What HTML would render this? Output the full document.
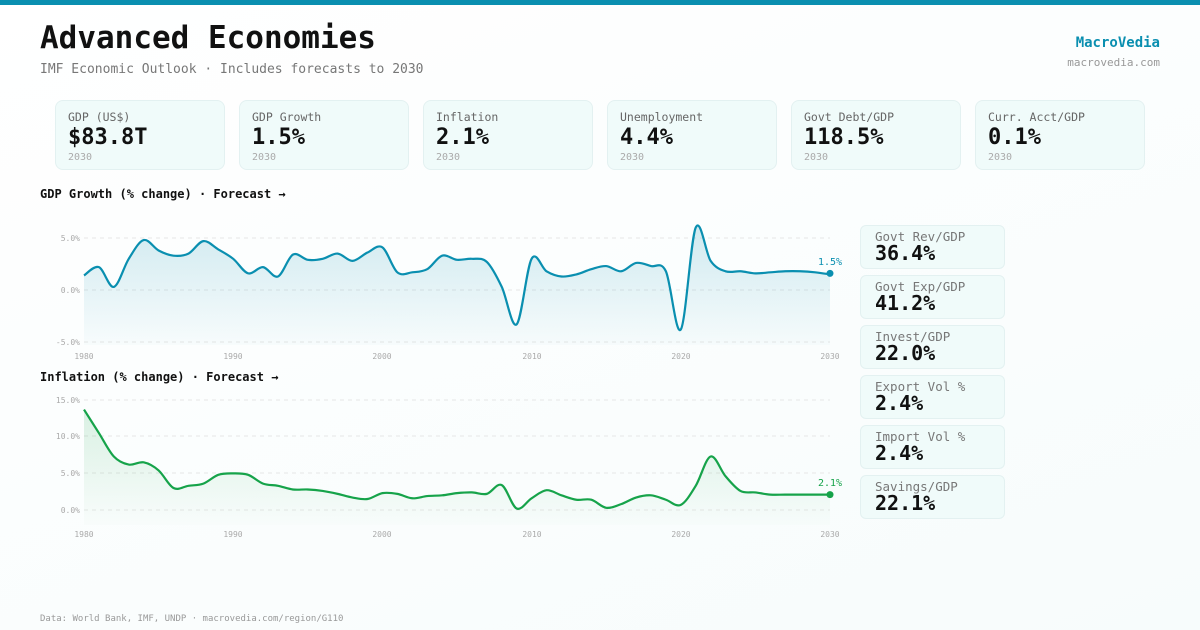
<!DOCTYPE html>
<html><head><meta charset="utf-8"><style>
*{margin:0;padding:0;box-sizing:border-box}
body{width:1200px;height:630px;overflow:hidden;background:linear-gradient(160deg,#ffffff 0%,#f7fcfc 100%);font-family:"DejaVu Sans Mono","Liberation Mono",monospace;color:#111;position:relative}
.top{position:absolute;left:0;top:0;width:1200px;height:5px;background:#0a8fb0}
h1{position:absolute;left:40px;top:20px;font-size:31px;font-weight:bold;letter-spacing:0px}
.sub{position:absolute;left:40px;top:62px;font-size:13px;color:#777}
.brand{position:absolute;right:40px;top:35px;font-size:14px;font-weight:bold;color:#0a8fb0}
.site{position:absolute;right:40px;top:56px;font-size:11px;color:#999}
.kpi{position:absolute;top:100px;width:170px;height:70px;border:1px solid #e3f1f1;border-radius:8px;background:#f0fbfa;padding:9px 12px}
.kpi .l{font-size:11.5px;color:#666}
.kpi .v{font-size:22px;font-weight:bold;margin-top:1px;line-height:26px}
.kpi .y{font-size:10px;color:#aaa;margin-top:1px}
.ct{position:absolute;left:40px;font-size:12px;font-weight:bold}
.side{position:absolute;left:860px;width:145px;height:44px;border:1px solid #e3f1f1;border-radius:6px;background:#f0fbfa;padding:4px 14px}
.side .l{font-size:12.5px;color:#777;line-height:13px}
.side .v{font-size:20px;font-weight:bold;line-height:20px}
.foot{position:absolute;left:40px;top:614px;font-size:9px;color:#999}
svg{position:absolute;left:0;top:0}
</style></head><body>
<div class="top"></div>
<h1>Advanced Economies</h1>
<div class="sub">IMF Economic Outlook · Includes forecasts to 2030</div>
<div class="brand">MacroVedia</div>
<div class="site">macrovedia.com</div>
<div class="kpi" style="left:55px"><div class="l">GDP (US$)</div><div class="v">$83.8T</div><div class="y">2030</div></div>
<div class="kpi" style="left:239px"><div class="l">GDP Growth</div><div class="v">1.5%</div><div class="y">2030</div></div>
<div class="kpi" style="left:423px"><div class="l">Inflation</div><div class="v">2.1%</div><div class="y">2030</div></div>
<div class="kpi" style="left:607px"><div class="l">Unemployment</div><div class="v">4.4%</div><div class="y">2030</div></div>
<div class="kpi" style="left:791px"><div class="l">Govt Debt/GDP</div><div class="v">118.5%</div><div class="y">2030</div></div>
<div class="kpi" style="left:975px"><div class="l">Curr. Acct/GDP</div><div class="v">0.1%</div><div class="y">2030</div></div>
<div class="ct" style="top:187px">GDP Growth (% change) · Forecast →</div>
<div class="ct" style="top:370px">Inflation (% change) · Forecast →</div>
<div class="side" style="top:225px"><div class="l">Govt Rev/GDP</div><div class="v">36.4%</div></div>
<div class="side" style="top:275px"><div class="l">Govt Exp/GDP</div><div class="v">41.2%</div></div>
<div class="side" style="top:325px"><div class="l">Invest/GDP</div><div class="v">22.0%</div></div>
<div class="side" style="top:375px"><div class="l">Export Vol %</div><div class="v">2.4%</div></div>
<div class="side" style="top:425px"><div class="l">Import Vol %</div><div class="v">2.4%</div></div>
<div class="side" style="top:475px"><div class="l">Savings/GDP</div><div class="v">22.1%</div></div>
<div class="foot">Data: World Bank, IMF, UNDP · macrovedia.com/region/G110</div>
<svg width="1200" height="630" id="s" font-family="DejaVu Sans Mono, monospace">
<defs>
<linearGradient id="g1" x1="0" y1="0" x2="0" y2="1"><stop offset="0" stop-color="#0a8fb0" stop-opacity="0.18"/><stop offset="1" stop-color="#0a8fb0" stop-opacity="0.02"/></linearGradient>
<linearGradient id="g2" x1="0" y1="0" x2="0" y2="1"><stop offset="0" stop-color="#16a34a" stop-opacity="0.15"/><stop offset="1" stop-color="#16a34a" stop-opacity="0.01"/></linearGradient>
</defs>
<g stroke="#e6e6e6" stroke-dasharray="4,4">
<line x1="84" x2="830" y1="238" y2="238"/><line x1="84" x2="830" y1="290" y2="290"/><line x1="84" x2="830" y1="342" y2="342"/>
<line x1="84" x2="830" y1="400" y2="400"/><line x1="84" x2="830" y1="436" y2="436"/><line x1="84" x2="830" y1="473" y2="473"/><line x1="84" x2="830" y1="510" y2="510"/>
</g>
<g font-size="8" fill="#aaa" text-anchor="end">
<text x="80" y="241">5.0%</text><text x="80" y="293">0.0%</text><text x="80" y="345">-5.0%</text>
<text x="80" y="403">15.0%</text><text x="80" y="439">10.0%</text><text x="80" y="476">5.0%</text><text x="80" y="513">0.0%</text>
</g>
<g font-size="8" fill="#aaa" text-anchor="middle">
<text x="84" y="359">1980</text><text x="233" y="359">1990</text><text x="382" y="359">2000</text><text x="532" y="359">2010</text><text x="681" y="359">2020</text><text x="830" y="359">2030</text>
<text x="84" y="537">1980</text><text x="233" y="537">1990</text><text x="382" y="537">2000</text><text x="532" y="537">2010</text><text x="681" y="537">2020</text><text x="830" y="537">2030</text>
</g>
<path id="a1" fill="url(#g1)"/><path id="l1" fill="none" stroke="#0a8fb0" stroke-width="2.2"/>
<path id="a2" fill="url(#g2)"/><path id="l2" fill="none" stroke="#16a34a" stroke-width="2.2"/>
<circle cx="830" cy="273.4" r="3.5" fill="#0a8fb0"/><text x="830" y="265" font-size="10" fill="#0a8fb0" text-anchor="middle">1.5%</text>
<circle cx="830" cy="494.6" r="3.5" fill="#16a34a"/><text x="830" y="486" font-size="10" fill="#16a34a" text-anchor="middle">2.1%</text>
</svg>
<script>
var g=[1.4,2.2,0.3,3.0,4.8,3.8,3.3,3.5,4.7,3.9,3.0,1.6,2.2,1.3,3.4,2.9,3.0,3.5,2.8,3.6,4.1,1.7,1.7,2.0,3.3,2.9,3.0,2.7,0.3,-3.3,3.0,1.8,1.3,1.5,2.0,2.3,1.8,2.6,2.3,1.8,-3.8,6.0,2.8,1.8,1.8,1.6,1.7,1.8,1.8,1.7,1.5];
var f=[13.7,10.5,7.3,6.2,6.5,5.4,3.0,3.3,3.6,4.8,5.0,4.8,3.6,3.3,2.8,2.8,2.6,2.2,1.7,1.5,2.3,2.2,1.6,1.9,2.0,2.3,2.4,2.2,3.4,0.2,1.6,2.7,2.0,1.4,1.4,0.3,0.8,1.7,2.0,1.4,0.7,3.3,7.3,4.6,2.6,2.4,2.1,2.1,2.1,2.1,2.1];
function mk(d,y0,s){var p=d.map(function(v,i){return [84+i*746/50,y0-v*s]});var o="M"+p[0][0]+","+p[0][1];
for(var i=0;i<p.length-1;i++){var a=p[i-1]||p[i],b=p[i],c=p[i+1],e=p[i+2]||c;
o+=" C"+(b[0]+(c[0]-a[0])/6)+","+(b[1]+(c[1]-a[1])/6)+" "+(c[0]-(e[0]-b[0])/6)+","+(c[1]-(e[1]-b[1])/6)+" "+c[0]+","+c[1];}return o;}
var p1=mk(g,290,10.4),p2=mk(f,510,7.33);
document.getElementById('l1').setAttribute('d',p1);document.getElementById('a1').setAttribute('d',p1+" L830,345 L84,345 Z");
document.getElementById('l2').setAttribute('d',p2);document.getElementById('a2').setAttribute('d',p2+" L830,525 L84,525 Z");
</script>
</body></html>
